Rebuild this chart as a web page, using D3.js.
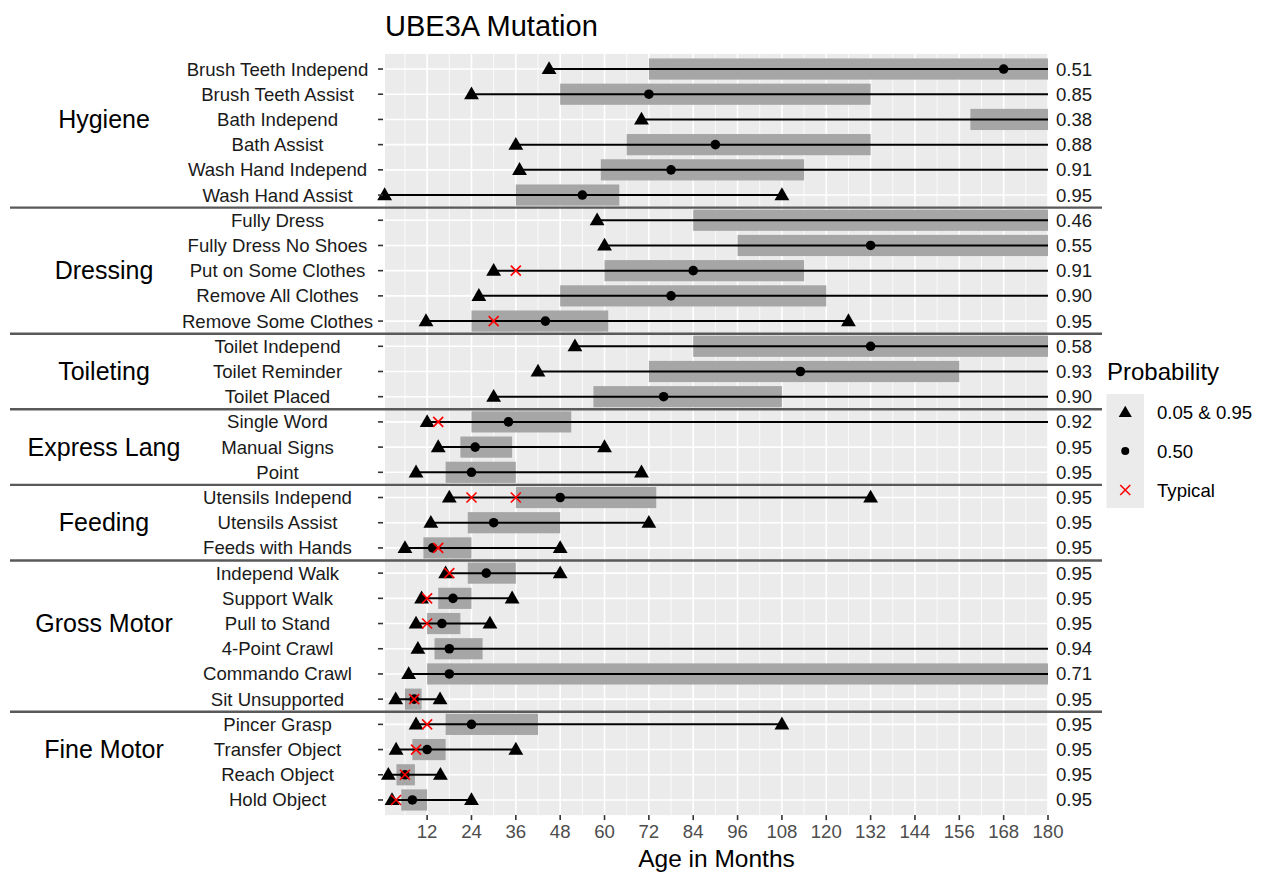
<!DOCTYPE html>
<html>
<head>
<meta charset="utf-8">
<script src="https://cdn.jsdelivr.net/npm/d3@7"></script>
<style>
  html, body { margin: 0; padding: 0; background: #ffffff; }
  svg { display: block; font-family: "Liberation Sans", Arial, sans-serif; }
</style>
</head>
<body>
<svg id="chart" width="1265" height="872"></svg>
<script>
// ---------------- data ----------------
const title = "UBE3A Mutation";
const xTitle = "Age in Months";
const skills = [
  "Brush Teeth Independ", "Brush Teeth Assist", "Bath Independ", "Bath Assist",
  "Wash Hand Independ", "Wash Hand Assist",
  "Fully Dress", "Fully Dress No Shoes", "Put on Some Clothes", "Remove All Clothes", "Remove Some Clothes",
  "Toilet Independ", "Toilet Reminder", "Toilet Placed",
  "Single Word", "Manual Signs", "Point",
  "Utensils Independ", "Utensils Assist", "Feeds with Hands",
  "Independ Walk", "Support Walk", "Pull to Stand", "4-Point Crawl", "Commando Crawl", "Sit Unsupported",
  "Pincer Grasp", "Transfer Object", "Reach Object", "Hold Object"
];
const groupNames = ["Hygiene", "Dressing", "Toileting", "Express Lang", "Feeding", "Gross Motor", "Fine Motor"];
const groupSizes = [6, 5, 3, 3, 3, 6, 4];
// row (within group) where the group label sits
const groupLabelRow = [2, 2, 1, 1, 1, 2, 1];

// null = beyond the 180-month axis limit
const p05 = [45, 24, 70, 36, 37, 0.5, 58, 60, 30, 26, 11.7, 52, 42, 30, 12, 15, 9, 18, 13, 6,
             17, 10.5, 9, 9.5, 7, 3.5, 9, 3.6, 1.5, 2.5];
const barStart = [72, 48, 159, 66, 59, 36, 84, 96, 60, 48, 24, 84, 72, 57, 24, 21, 17, 36, 23, 11,
                  23, 15, 12, 14, 12, 6, 17, 8, 3.7, 5];
const p50 = [168, 72, null, 90, 78, 54, null, 132, 84, 78, 44, 132, 113, 76, 34, 25, 24, 48, 30, 13.5,
             28, 19, 16, 18, 18, 8.5, 24, 12, 6, 8];
const barEnd = [null, 132, null, 132, 114, 64, null, null, 114, 120, 61, null, 156, 108, 51, 35, 36, 74, 48, 24,
                36, 24, 21, 27, null, 10.5, 42, 17, 8.7, 12];
const p95 = [null, null, null, null, null, 108, null, null, null, null, 126, null, null, null, null, 60, 70, 132, 72, 48,
             48, 35, 29, null, null, 15.5, 108, 36, 15.6, 24];
const typical = [[], [], [], [], [], [], [], [], [36], [], [30], [], [], [], [15], [], [], [24, 36], [], [15],
                 [18], [12], [12], [], [], [8.5], [12], [9], [6], [3.6]];
const probability = ["0.51", "0.85", "0.38", "0.88", "0.91", "0.95", "0.46", "0.55", "0.91", "0.90", "0.95",
                     "0.58", "0.93", "0.90", "0.92", "0.95", "0.95", "0.95", "0.95", "0.95",
                     "0.95", "0.95", "0.95", "0.94", "0.71", "0.95", "0.95", "0.95", "0.95", "0.95"];
const xTicks = [12, 24, 36, 48, 60, 72, 84, 96, 108, 120, 132, 144, 156, 168, 180];
const xMinor = [6, 18, 30, 42, 54, 66, 78, 90, 102, 114, 126, 138, 150, 162, 174];
const legendTitle = "Probability";
const legendLabels = ["0.05 & 0.95", "0.50", "Typical"];

// ---------------- layout ----------------
const P = { left: 385, right: 1048, top: 53.9, bottom: 815.1 };
const xMin = 0.6, xMax = 180;
const x = d3.scaleLinear().domain([xMin, xMax]).range([P.left, P.right]);
const y = d3.scalePoint().domain(skills).range([P.top, P.bottom]).padding(0.6);
const step = y.step();
const barH = step * 0.84;
const clampX = v => (v === null ? xMax : v);
const FS = 18.6;

const svg = d3.select("#chart");

// panel background
svg.append("rect").attr("x", P.left).attr("y", P.top)
  .attr("width", P.right - P.left).attr("height", P.bottom - P.top).attr("fill", "#ebebeb");

svg.append("clipPath").attr("id", "panelClip").append("rect")
  .attr("x", P.left).attr("y", P.top).attr("width", P.right - P.left).attr("height", P.bottom - P.top);

const panel = svg.append("g").attr("clip-path", "url(#panelClip)");
const marks = svg.append("g");

// grid
panel.selectAll("line.minor").data(xMinor).join("line")
  .attr("x1", d => x(d)).attr("x2", d => x(d)).attr("y1", P.top).attr("y2", P.bottom)
  .attr("stroke", "#ffffff").attr("stroke-width", 0.8);
panel.selectAll("line.majorx").data(xTicks).join("line")
  .attr("x1", d => x(d)).attr("x2", d => x(d)).attr("y1", P.top).attr("y2", P.bottom)
  .attr("stroke", "#ffffff").attr("stroke-width", 1.6);
panel.selectAll("line.majory").data(skills).join("line")
  .attr("x1", P.left).attr("x2", P.right).attr("y1", d => y(d)).attr("y2", d => y(d))
  .attr("stroke", "#ffffff").attr("stroke-width", 1.6);

// bars
panel.selectAll("rect.bar").data(skills).join("rect")
  .attr("x", (d, i) => x(barStart[i]))
  .attr("width", (d, i) => x(clampX(barEnd[i])) - x(barStart[i]))
  .attr("y", d => y(d) - barH / 2).attr("height", barH)
  .attr("fill", "#a6a6a6");

// ranges 5%-95%
marks.selectAll("line.range").data(skills).join("line")
  .attr("x1", (d, i) => x(p05[i])).attr("x2", (d, i) => x(clampX(p95[i])))
  .attr("y1", d => y(d)).attr("y2", d => y(d))
  .attr("stroke", "#000000").attr("stroke-width", 2);

// triangles
const tri = d3.symbol().type(d3.symbolTriangle).size(95);
const triPts = [];
skills.forEach((s, i) => {
  triPts.push({ s, v: p05[i] });
  if (p95[i] !== null) triPts.push({ s, v: p95[i] });
});
marks.selectAll("path.tri").data(triPts).join("path")
  .attr("d", tri).attr("transform", d => `translate(${x(d.v)},${y(d.s) + 0.8})`)
  .attr("fill", "#000000");

// medians
marks.selectAll("circle.med").data(skills.filter((s, i) => p50[i] !== null)).join("circle")
  .attr("cx", d => x(p50[skills.indexOf(d)])).attr("cy", d => y(d)).attr("r", 4.8)
  .attr("fill", "#000000");

// typical ages (red x)
const typPts = [];
skills.forEach((s, i) => typical[i].forEach(v => typPts.push({ s, v })));
const xs = 5;
const typG = marks.selectAll("g.typ").data(typPts).join("g")
  .attr("transform", d => `translate(${x(d.v)},${y(d.s)})`);
typG.append("line").attr("x1", -xs).attr("y1", -xs).attr("x2", xs).attr("y2", xs)
  .attr("stroke", "#ff0000").attr("stroke-width", 1.6);
typG.append("line").attr("x1", -xs).attr("y1", xs).attr("x2", xs).attr("y2", -xs)
  .attr("stroke", "#ff0000").attr("stroke-width", 1.6);

// group separators
const bounds = [];
let acc = 0;
groupSizes.forEach((n, g) => {
  const first = acc;
  if (g > 0) bounds.push((y(skills[first]) + y(skills[first - 1])) / 2);
  acc += n;
});
svg.selectAll("line.sep").data(bounds).join("line")
  .attr("x1", 10).attr("x2", 1102).attr("y1", d => d).attr("y2", d => d)
  .attr("stroke", "#595959").attr("stroke-width", 2.4);

// y axis ticks & labels
svg.selectAll("line.ytick").data(skills).join("line")
  .attr("x1", P.left - 7).attr("x2", P.left - 2).attr("y1", d => y(d)).attr("y2", d => y(d))
  .attr("stroke", "#333333").attr("stroke-width", 1.6);
svg.selectAll("text.ylab").data(skills).join("text")
  .attr("x", 277.5).attr("y", d => y(d)).attr("dy", "0.35em")
  .attr("text-anchor", "middle").attr("font-size", FS).attr("fill", "#1a1a1a")
  .text(d => d);

// group labels
acc = 0;
const gl = groupNames.map((g, k) => {
  const r = acc + groupLabelRow[k];
  acc += groupSizes[k];
  return { g, yy: y(skills[r]) };
});
svg.selectAll("text.grp").data(gl).join("text")
  .attr("x", 104).attr("y", d => d.yy).attr("dy", "0.35em")
  .attr("text-anchor", "middle").attr("font-size", 25).attr("fill", "#000000")
  .text(d => d.g);

// probability labels
svg.selectAll("text.prob").data(skills).join("text")
  .attr("x", 1056).attr("y", d => y(d)).attr("dy", "0.35em")
  .attr("font-size", FS).attr("fill", "#1a1a1a")
  .text((d, i) => probability[i]);

// x axis
svg.selectAll("line.xtick").data(xTicks).join("line")
  .attr("x1", d => x(d)).attr("x2", d => x(d)).attr("y1", P.bottom).attr("y2", P.bottom + 5)
  .attr("stroke", "#333333").attr("stroke-width", 1.6);
svg.selectAll("text.xlab").data(xTicks).join("text")
  .attr("x", d => x(d)).attr("y", 838)
  .attr("text-anchor", "middle").attr("font-size", FS).attr("fill", "#4d4d4d")
  .text(d => d);
svg.append("text").attr("x", (P.left + P.right) / 2).attr("y", 867)
  .attr("text-anchor", "middle").attr("font-size", 24.5).attr("fill", "#000000").text(xTitle);

// title
svg.append("text").attr("x", P.left).attr("y", 36)
  .attr("font-size", 29).attr("fill", "#000000").text(title);

// legend
const L = { x: 1106.5, y: 394, w: 37.5, h: 114 };
svg.append("text").attr("x", 1107).attr("y", 380).attr("font-size", 24).attr("fill", "#000000").text(legendTitle);
svg.append("rect").attr("x", L.x).attr("y", L.y).attr("width", L.w).attr("height", L.h).attr("fill", "#ebebeb");
const legY = [412.5, 451, 490];
const lcx = L.x + L.w / 2;
svg.append("path").attr("d", d3.symbol().type(d3.symbolTriangle).size(75))
  .attr("transform", `translate(${lcx},${legY[0] + 0.8})`).attr("fill", "#000000");
svg.append("circle").attr("cx", lcx).attr("cy", legY[1]).attr("r", 4).attr("fill", "#000000");
const lx = svg.append("g").attr("transform", `translate(${lcx},${legY[2]})`);
lx.append("line").attr("x1", -5).attr("y1", -5).attr("x2", 5).attr("y2", 5).attr("stroke", "#ff0000").attr("stroke-width", 1.6);
lx.append("line").attr("x1", -5).attr("y1", 5).attr("x2", 5).attr("y2", -5).attr("stroke", "#ff0000").attr("stroke-width", 1.6);
svg.selectAll("text.leg").data(legendLabels).join("text")
  .attr("x", 1157).attr("y", (d, i) => legY[i]).attr("dy", "0.35em")
  .attr("font-size", FS).attr("fill", "#000000").text(d => d);
</script>
</body>
</html>
